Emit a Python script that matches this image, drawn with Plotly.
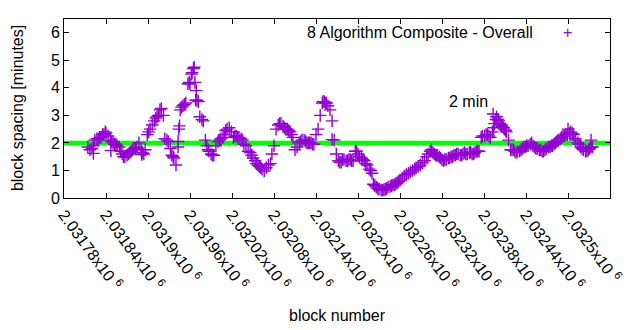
import plotly.graph_objects as go

# ---- data ----
blocks = [
2031814,2031817,2031820,2031822,2031824,2031827,2031829,2031831,2031833,2031835,
2031837,2031839,2031840,2031843,2031846,2031848,2031850,2031852,2031854,2031856,
2031859,2031861,2031863,2031865,2031867,2031870,2031872,2031874,2031876,2031878,
2031880,2031882,2031884,2031887,2031890,2031892,2031894,2031896,2031899,2031901,
2031903,2031906,2031909,2031911,2031913,2031915,2031917,2031919,2031922,2031924,
2031927,2031929,2031932,2031934,2031936,2031937,2031940,2031943,2031944,2031946,
2031948,2031950,2031952,2031954,2031957,2031959,2031960,2031962,2031963,2031965,
2031966,2031967,2031969,2031970,2031972,2031974,2031977,2031979,2031982,2031984,
2031986,2031987,2031990,2031992,2031994,2031997,2032000,2032002,2032004,2032007,
2032009,2032011,2032013,2032016,2032019,2032022,2032024,2032026,2032028,2032030,
2032033,2032035,2032037,2032040,2032043,2032046,2032048,2032050,2032053,2032055,
2032057,2032059,2032061,2032063,2032066,2032069,2032072,2032075,2032077,2032080,
2032083,2032086,2032088,2032090,2032093,2032095,2032097,2032099,2032101,2032103,
2032105,2032107,2032110,2032113,2032116,2032118,2032120,2032123,2032125,2032127,
2032129,2032131,2032133,2032135,2032137,2032140,2032143,2032146,2032149,2032150,
2032152,2032154,2032155,2032157,2032160,2032163,2032166,2032169,2032172,2032174,
2032176,2032178,2032180,2032183,2032185,2032187,2032189,2032191,2032193,2032196,
2032198,2032200,2032202,2032205,2032207,2032209,2032211,2032213,2032216,2032218,
2032220,2032222,2032224,2032226,2032228,2032230,2032233,2032235,2032237,2032239,
2032241,2032243,2032246,2032248,2032250,2032252,2032254,2032256,2032258,2032260,
2032263,2032266,2032269,2032272,2032275,2032278,2032281,2032283,2032286,2032289,
2032292,2032295,2032298,2032300,2032303,2032305,2032307,2032309,2032311,2032313,
2032316,2032318,2032320,2032322,2032324,2032326,2032329,2032331,2032333,2032335,
2032337,2032339,2032341,2032343,2032346,2032348,2032350,2032352,2032354,2032356,
2032359,2032361,2032363,2032365,2032367,2032369,2032371,2032373,2032376,2032378,
2032381,2032383,2032385,2032387,2032389,2032392,2032394,2032395,2032397,2032398,
2032400,2032401,2032403,2032405,2032406,2032408,2032409,2032411,2032412,2032415,
2032418,2032420,2032422,2032424,2032426,2032428,2032431,2032433,2032435,2032437,
2032439,2032441,2032443,2032446,2032448,2032450,2032452,2032454,2032456,2032459,
2032461,2032463,2032465,2032467,2032469,2032472,2032474,2032476,2032478,2032480,
2032482,2032484,2032486,2032489,2032491,2032493,2032495,2032497,2032499,2032502,
2032504,2032506,2032508,2032510,2032511,2032514,2032516,2032518,2032520,2032522,
2032525,2032527,2032529,2032531,2032533,2032535,
]
spacing = [
1.85,1.75,1.80,1.90,2.10,2.15,2.15,2.20,2.20,2.30,
2.30,2.40,2.35,2.25,2.10,2.05,2.00,1.95,1.95,1.90,
1.85,1.70,1.60,1.50,1.50,1.55,1.60,1.65,1.70,1.75,
1.80,1.80,1.85,2.00,1.75,1.65,1.60,1.75,2.30,2.40,
2.50,2.65,2.80,2.90,2.95,3.00,3.20,3.25,3.00,2.15,
2.10,2.05,1.80,1.55,1.50,1.45,1.20,2.05,2.50,3.20,
3.30,3.35,3.40,3.45,4.15,4.20,4.15,4.50,4.55,4.70,
4.75,4.20,3.90,3.55,3.50,2.95,2.85,2.80,2.10,1.90,
1.75,1.70,1.60,1.55,1.55,1.90,2.05,2.10,2.15,2.20,
2.30,2.45,2.50,2.55,2.40,2.20,2.25,2.25,2.20,2.20,
2.15,2.10,1.95,1.90,1.70,1.65,1.55,1.45,1.35,1.25,
1.20,1.15,1.10,1.05,0.98,1.10,1.20,1.25,1.60,1.90,
2.50,2.65,2.70,2.70,2.60,2.55,2.50,2.50,2.45,2.40,
2.30,2.20,1.75,1.85,2.00,2.05,2.10,2.10,2.05,2.00,
2.00,2.00,2.00,1.95,1.95,2.30,2.50,3.00,3.45,3.50,
3.50,3.45,3.45,3.35,3.20,2.80,2.10,1.60,1.35,1.30,
1.30,1.40,1.40,1.35,1.35,1.40,1.40,1.35,1.35,1.70,
1.70,1.60,1.50,1.45,1.40,1.35,1.25,1.20,1.05,1.00,
0.90,0.50,0.45,0.40,0.35,0.32,0.30,0.28,0.30,0.32,
0.35,0.40,0.42,0.45,0.47,0.48,0.52,0.55,0.60,0.65,
0.72,0.80,0.85,0.90,0.95,1.00,1.05,1.10,1.15,1.20,
1.28,1.35,1.50,1.60,1.70,1.75,1.65,1.60,1.55,1.55,
1.50,1.45,1.40,1.35,1.40,1.40,1.45,1.45,1.50,1.50,
1.55,1.55,1.60,1.60,1.55,1.55,1.60,1.65,1.60,1.60,
1.65,1.65,1.60,1.60,1.65,1.70,1.70,1.70,2.20,2.25,
2.25,2.30,2.30,2.25,2.20,2.40,2.55,2.70,2.85,2.95,
2.85,2.80,2.70,2.65,2.60,2.55,2.50,2.45,2.40,2.10,
1.75,1.75,1.75,1.70,1.65,1.70,1.70,1.75,1.80,1.85,
1.85,1.90,1.90,1.95,2.00,1.90,1.85,1.80,1.80,1.75,
1.75,1.70,1.70,1.75,1.80,1.85,1.85,1.90,1.90,1.95,
2.00,2.05,2.10,2.15,2.20,2.25,2.25,2.30,2.30,2.35,
2.40,2.35,2.30,2.15,2.10,2.00,1.95,1.85,1.80,1.75,
1.70,1.70,1.75,1.80,1.85,1.85,
]
# scattered single outliers
extra_blocks = [2031822, 2031847, 2031891, 2031943, 2031945, 2031968, 2032163, 2032393, 2032500, 2032533]
extra_spacing = [1.62, 1.72, 1.58, 1.85, 2.62, 3.55, 2.12, 3.05, 2.50, 2.10]

target_minutes = 2
tick_vals = [2031780, 2031840, 2031900, 2031960, 2032020, 2032080, 2032140,
             2032200, 2032260, 2032320, 2032380, 2032440, 2032500, 2032560]
tick_mant = ["2.03178", "2.03184", "2.0319", "2.03196", "2.03202", "2.03208", "2.03214",
             "2.0322", "2.03226", "2.03232", "2.03238", "2.03244", "2.0325", "2.03256"]
tick_text = [m + "x10 <sup>6</sup>" for m in tick_mant]
y_ticks = [0, 1, 2, 3, 4, 5, 6]

series_name = "8 Algorithm Composite - Overall"
PURPLE = "#9400D3"
FONT = "Liberation Sans, Arial, sans-serif"

fig = go.Figure()
fig.add_trace(go.Scatter(
    x=[tick_vals[0], tick_vals[-1]], y=[target_minutes, target_minutes],
    mode="lines", line=dict(color="#00FF00", width=4.5), showlegend=False,
    hoverinfo="skip"))
fig.add_trace(go.Scatter(
    x=blocks + extra_blocks, y=spacing + extra_spacing, mode="markers",
    marker=dict(symbol="cross-thin", size=9, line=dict(color=PURPLE, width=1.4)),
    name=series_name, showlegend=False))

axis_common = dict(showline=True, linecolor="black", linewidth=1, mirror="ticks",
                   ticks="inside", ticklen=5, tickcolor="black", showgrid=False,
                   zeroline=False, automargin=False,
                   tickfont=dict(family=FONT, size=16, color="black"))
fig.update_xaxes(range=[tick_vals[0], tick_vals[-1]], tickvals=tick_vals,
                 ticktext=tick_text, tickangle=54, **axis_common)
fig.update_yaxes(range=[0, 6.5], tickvals=y_ticks, **axis_common)

fig.add_annotation(text="block spacing [minutes]", xref="paper", yref="paper",
                   x=-0.085, y=0.5, xanchor="center", yanchor="middle",
                   textangle=-90, showarrow=False,
                   font=dict(family=FONT, size=16, color="black"))
fig.add_annotation(text="block number", xref="paper", yref="paper",
                   x=0.5, y=-0.655, xanchor="center", yanchor="middle", showarrow=False,
                   font=dict(family=FONT, size=16, color="black"))
fig.add_annotation(text=series_name, xref="paper", yref="paper",
                   x=0.862, y=0.927, xanchor="right", yanchor="middle", showarrow=False,
                   font=dict(family=FONT, size=16, color="black"))
fig.add_annotation(text="+", xref="paper", yref="paper",
                   x=0.922, y=0.927, xanchor="center", yanchor="middle", showarrow=False,
                   font=dict(family=FONT, size=16, color=PURPLE))
fig.add_annotation(text="2 min", x=2032327, y=3.5, xanchor="left", yanchor="middle",
                   showarrow=False, font=dict(family=FONT, size=16, color="black"))

fig.update_layout(width=640, height=330, margin=dict(l=64, r=30, t=19, b=132),
                  paper_bgcolor="white", plot_bgcolor="white", showlegend=False)
fig.write_html("out.html")
